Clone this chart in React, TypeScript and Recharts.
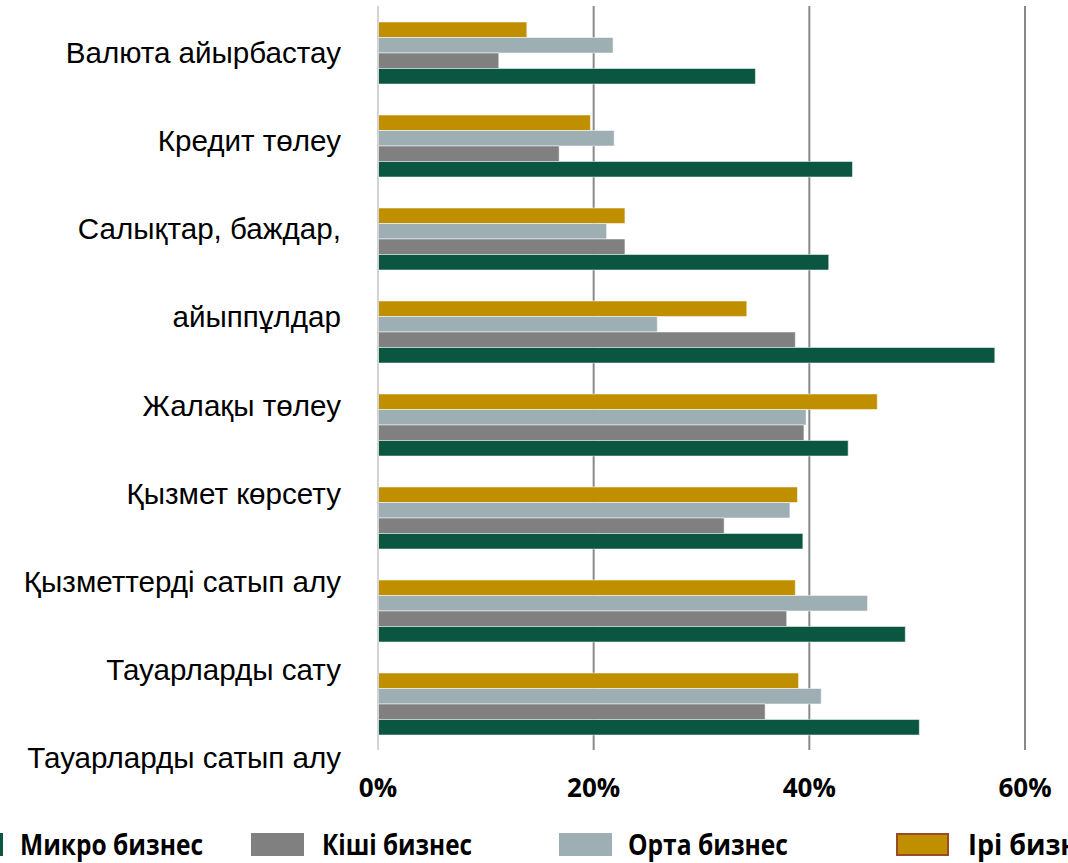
import React from 'react';
import { BarChart, Bar, XAxis, YAxis, CartesianGrid } from 'recharts';

// Categories top to bottom; "\n" marks the one label that wraps onto two lines
const categories = [
  'Валюта айырбастау',
  'Кредит төлеу',
  'Салықтар, баждар,\nайыппұлдар',
  'Жалақы төлеу',
  'Қызмет көрсету',
  'Қызметтерді сатып алу',
  'Тауарларды сату',
  'Тауарларды сатып алу',
];

// Shares, %
const microValues = [35.0, 44.0, 41.8, 57.2, 43.6, 39.4, 48.9, 50.2];
const smallValues = [11.2, 16.8, 22.9, 38.7, 39.5, 32.1, 37.9, 35.9];
const mediumValues = [21.8, 21.9, 21.2, 25.9, 39.7, 38.2, 45.4, 41.1];
const largeValues = [13.8, 19.7, 22.9, 34.2, 46.3, 38.9, 38.7, 39.0];

const xTicks = [0, 20, 40, 60];
const gridValues = [20, 40, 60];

const COLORS = {
  micro: '#0b5640',
  small: '#808080',
  medium: '#9dafb3',
  large: '#bf8f00',
  largeBorder: '#9c4a24',
};

const chartData = categories.map((category, i) => ({
  category,
  micro: microValues[i],
  small: smallValues[i],
  medium: mediumValues[i],
  large: largeValues[i],
}));

const WIDTH = 1068;
const HEIGHT = 863;
const MARGIN = { top: 6, right: 43, bottom: 63, left: 0 };
const X_AXIS_HEIGHT = 50;
const PLOT_HEIGHT = HEIGHT - MARGIN.top - MARGIN.bottom - X_AXIS_HEIGHT;
const BAND = PLOT_HEIGHT / categories.length;
// the category labels run as an evenly spaced text column, a little tighter than the bands
const LABEL_FIRST_Y = MARGIN.top + BAND / 2;
const LABEL_STEP = 88.1;

const CategoryTick = (props: any) => {
  const { x, index, payload } = props;
  const before = categories
    .slice(0, index)
    .reduce((n, c) => n + c.split('\n').length, 0);
  const lines = String(payload.value).split('\n');
  return (
    <g>
      {lines.map((line, k) => (
        <text
          key={k}
          x={x}
          y={LABEL_FIRST_Y + (before + k) * LABEL_STEP}
          dy="0.36em"
          textAnchor="end"
          fontFamily="'Liberation Sans', Arial, sans-serif"
          fontSize={29.6}
          fill="#000"
        >
          {line}
        </text>
      ))}
    </g>
  );
};

const PercentTick = (props: any) => {
  const { x, y, payload } = props;
  return (
    <text
      x={x}
      y={y + 47}
      textAnchor="middle"
      fontFamily="'Open Sans', sans-serif"
      fontWeight={700}
      fontSize={26}
      fill="#000"
    >
      {`${payload.value}%`}
    </text>
  );
};

const legendItems = [
  { label: 'Микро бизнес', color: COLORS.micro, box: -50, text: 20, textWidth: 183 },
  { label: 'Кіші бизнес', color: COLORS.small, box: 251, text: 322, textWidth: 150 },
  { label: 'Орта бизнес', color: COLORS.medium, box: 559, text: 628, textWidth: 160 },
  { label: 'Ірі бизнес', color: COLORS.large, box: 896, text: 968, textWidth: 140, border: COLORS.largeBorder },
];

function LegendRow() {
  return (
    <svg width={WIDTH} height={50} style={{ position: 'absolute', left: 0, top: 813 }}>
      {legendItems.map((item) => (
        <g key={item.label}>
          <rect
            x={item.box + (item.border ? 1 : 0)}
            y={20 + (item.border ? 1 : 0)}
            width={53 - (item.border ? 2 : 0)}
            height={23 - (item.border ? 2 : 0)}
            fill={item.color}
            stroke={item.border}
            strokeWidth={item.border ? 2 : 0}
          />
          <text
            x={item.text}
            y={42}
            fontFamily="'Open Sans', sans-serif"
            fontWeight={700}
            fontSize={29}
            textLength={item.textWidth}
            lengthAdjust="spacingAndGlyphs"
            fill="#000"
          >
            {item.label}
          </text>
        </g>
      ))}
    </svg>
  );
}

export default function App() {
  return (
    <div
      style={{
        position: 'absolute',
        left: 0,
        top: 0,
        width: WIDTH,
        height: HEIGHT,
        overflow: 'hidden',
        background: '#fff',
      }}
    >
      <BarChart
        width={WIDTH}
        height={HEIGHT}
        data={chartData}
        layout="vertical"
        margin={MARGIN}
        barSize={15.5}
        barGap={0}
      >
        <CartesianGrid
          horizontal={false}
          verticalValues={gridValues}
          stroke="#898989"
          strokeWidth={2}
        />
        <XAxis
          type="number"
          domain={[0, 60]}
          ticks={xTicks}
          axisLine={false}
          tickLine={false}
          tickSize={0}
          tickMargin={0}
          height={X_AXIS_HEIGHT}
          tick={<PercentTick />}
        />
        <YAxis
          type="category"
          dataKey="category"
          width={378}
          interval={0}
          tickLine={false}
          tickSize={0}
          tickMargin={37}
          axisLine={{ stroke: '#d4d4d4', strokeWidth: 2 }}
          tick={<CategoryTick />}
        />
        <Bar dataKey="large" fill={COLORS.large} stroke="rgba(255,255,255,0.5)" strokeWidth={1} isAnimationActive={false} />
        <Bar dataKey="medium" fill={COLORS.medium} stroke="rgba(255,255,255,0.5)" strokeWidth={1} isAnimationActive={false} />
        <Bar dataKey="small" fill={COLORS.small} stroke="rgba(255,255,255,0.5)" strokeWidth={1} isAnimationActive={false} />
        <Bar dataKey="micro" fill={COLORS.micro} stroke="rgba(255,255,255,0.5)" strokeWidth={1} isAnimationActive={false} />
      </BarChart>
      <LegendRow />
    </div>
  );
}
